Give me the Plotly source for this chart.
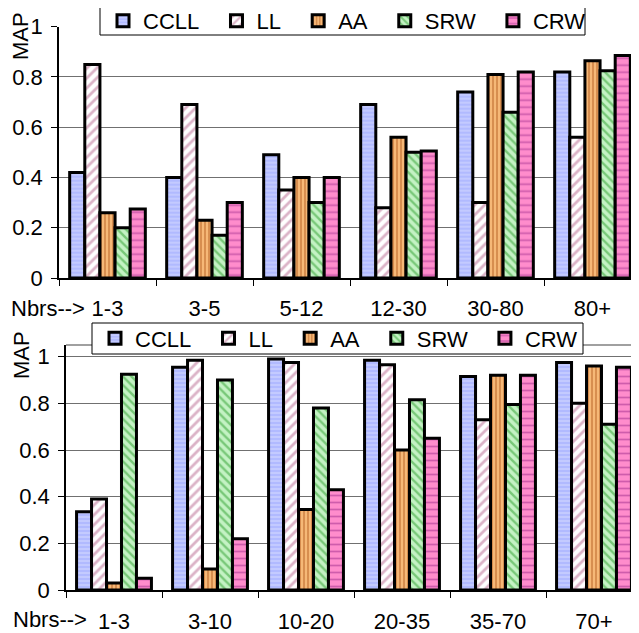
import plotly.graph_objects as go

series = ["CCLL", "LL", "AA", "SRW", "CRW"]

top_cats = ["1-3", "3-5", "5-12", "12-30", "30-80", "80+"]
top_CCLL = [0.42, 0.40, 0.49, 0.69, 0.74, 0.82]
top_LL = [0.85, 0.69, 0.35, 0.28, 0.30, 0.56]
top_AA = [0.26, 0.23, 0.40, 0.56, 0.81, 0.865]
top_SRW = [0.20, 0.17, 0.30, 0.50, 0.66, 0.825]
top_CRW = [0.275, 0.30, 0.40, 0.505, 0.82, 0.885]

bot_cats = ["1-3", "3-10", "10-20", "20-35", "35-70", "70+"]
bot_CCLL = [0.335, 0.955, 0.99, 0.985, 0.915, 0.975]
bot_LL = [0.39, 0.985, 0.975, 0.965, 0.73, 0.80]
bot_AA = [0.03, 0.09, 0.345, 0.60, 0.92, 0.96]
bot_SRW = [0.925, 0.90, 0.78, 0.815, 0.795, 0.71]
bot_CRW = [0.05, 0.22, 0.43, 0.65, 0.92, 0.955]

y_ticks = [0, 0.2, 0.4, 0.6, 0.8, 1]
y_tick_text = ["0", "0.2", "0.4", "0.6", "0.8", "1"]

styles = {
    "CCLL": dict(bg="#c3caff", fg="#97a3ff", shape="-", size=4, sol=0.4),
    "LL": dict(bg="#ffffff", fg="#b86890", shape="/", size=7, sol=0.4),
    "AA": dict(bg="#f6b877", fg="#a84f14", shape="|", size=4, sol=0.4),
    "SRW": dict(bg="#c4f2c4", fg="#2c9e2c", shape="\\", size=6, sol=0.4),
    "CRW": dict(bg="#ff8ccc", fg="#a02c8c", shape="-", size=7, sol=0.25),
}

FONT = "Liberation Sans, Arial, sans-serif"
FS = 22
# the page body has an 8px margin, so the figure starts 8px in from the window edge
OFF = 8
W, H = 639 - OFF, 633 - OFF


def X(px):
    return (px - OFF) / W


def Y(py):
    return (H - (py - OFF)) / H


top_vals = {"CCLL": top_CCLL, "LL": top_LL, "AA": top_AA, "SRW": top_SRW, "CRW": top_CRW}
bot_vals = {"CCLL": bot_CCLL, "LL": bot_LL, "AA": bot_AA, "SRW": bot_SRW, "CRW": bot_CRW}

NB = "\u00a0\u00a0"

fig = go.Figure()


def add_bars(cats, vals, xa, ya, legend):
    for s in series:
        st = styles[s]
        fig.add_trace(go.Bar(
            x=cats, y=vals[s], name=s + (NB if s != "CRW" else ""),
            xaxis=xa, yaxis=ya, legend=legend,
            marker=dict(
                color=st["bg"],
                line=dict(color="black", width=3),
                pattern=dict(shape=st["shape"], fgcolor=st["fg"], bgcolor=st["bg"],
                             size=st["size"], solidity=st["sol"]),
            ),
        ))


add_bars(top_cats, top_vals, "x", "y", "legend")
add_bars(bot_cats, bot_vals, "x2", "y2", "legend2")

axis_common = dict(showline=True, linecolor="black", linewidth=1.5,
                   ticks="outside", tickcolor="black", ticklen=6,
                   tickfont=dict(family=FONT, size=FS, color="black"),
                   automargin=False)

leg_common = dict(orientation="h", xanchor="left", yanchor="middle",
                  bgcolor="rgba(0,0,0,0)", borderwidth=0,
                  font=dict(family=FONT, size=FS, color="black"),
                  itemwidth=30, tracegroupgap=0)

fig.update_layout(
    width=W, height=H,
    margin=dict(l=0, r=0, t=0, b=0, autoexpand=False),
    paper_bgcolor="white", plot_bgcolor="white",
    barmode="group", bargap=0.22, bargroupgap=0,
    font=dict(family=FONT, color="black"),
    xaxis=dict(domain=[X(59), 1], anchor="y", type="category",
               range=[-0.5, -0.5 + 580 / 97], tickson="boundaries",
               ticklabelstandoff=10, showgrid=False, **axis_common),
    yaxis=dict(domain=[Y(278), Y(26.7)], anchor="x",
               range=[0, 1], tickvals=y_ticks, ticktext=y_tick_text,
               showgrid=True, gridcolor="#707070", gridwidth=1,
               ticklabelstandoff=4, zeroline=False, **axis_common),
    xaxis2=dict(domain=[X(66), 1], anchor="y2", type="category",
                range=[-0.5, -0.5 + 573 / 96], tickson="boundaries",
                ticklabelstandoff=11, showgrid=False, **axis_common),
    yaxis2=dict(domain=[Y(590), Y(345)], anchor="x2",
                range=[0, 1.05], tickvals=y_ticks, ticktext=y_tick_text,
                showgrid=True, gridcolor="#707070", gridwidth=1,
                ticklabelstandoff=4, zeroline=False, **axis_common),
    legend=dict(x=X(103), y=Y(21), **leg_common),
    legend2=dict(x=X(95), y=Y(338.5), **leg_common),
)

# top edge line of lower plot area
fig.add_shape(type="line", xref="x2 domain", yref="y2 domain", x0=0, x1=1, y0=1, y1=1,
              line=dict(color="#808080", width=1.5))
# legend frames (white boxes with black border behind legend entries)
fig.add_shape(type="rect", xref="paper", yref="paper", layer="above",
              x0=X(100), x1=X(585), y0=Y(35), y1=Y(7),
              fillcolor="white", line=dict(color="black", width=1))
fig.add_shape(type="rect", xref="paper", yref="paper", layer="above",
              x0=X(92), x1=X(583), y0=Y(354), y1=Y(323),
              fillcolor="white", line=dict(color="black", width=1))

ann_font = dict(family=FONT, size=FS, color="black")
fig.add_annotation(text="MAP", textangle=-90, xref="paper", yref="paper",
                   x=X(21), y=Y(36), showarrow=False, font=ann_font,
                   xanchor="center", yanchor="middle")
fig.add_annotation(text="MAP", textangle=-90, xref="paper", yref="paper",
                   x=X(21), y=Y(355), showarrow=False, font=ann_font,
                   xanchor="center", yanchor="middle")
fig.add_annotation(text="Nbrs-->", xref="paper", yref="paper",
                   x=X(9), y=Y(308), showarrow=False, font=ann_font,
                   xanchor="left", yanchor="middle")
fig.add_annotation(text="Nbrs-->", xref="paper", yref="paper",
                   x=X(11), y=Y(619), showarrow=False, font=ann_font,
                   xanchor="left", yanchor="middle")

fig.write_html("out.html")
